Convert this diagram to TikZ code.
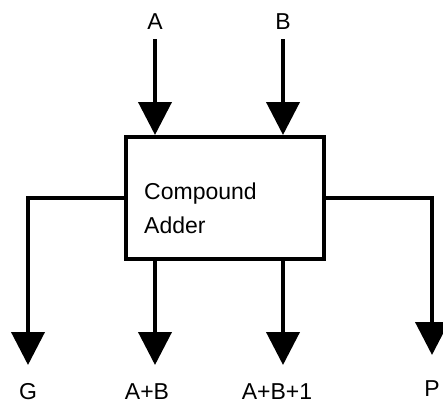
\documentclass[tikz,border=0pt]{standalone}
\usepackage{fontspec}
\setmainfont{Liberation Sans}
\usetikzlibrary{arrows.meta,positioning}

\begin{document}
\begin{tikzpicture}[x=1pt,y=-1pt,
  wire/.style={line width=4pt},
  arr/.style={wire,-{Triangle[length=33pt,width=33pt]}},
  sig/.style={inner sep=0pt,text height=16.5pt,text depth=0pt,font=\fontsize{23}{27}\selectfont}]
\useasboundingbox (0,0) rectangle (443,402);

% Adder box
\node[draw,wire,minimum width=198pt,minimum height=122pt,inner sep=0pt] (adder) at (225,198) {};
\node[anchor=base west,align=left,inner sep=0pt,font=\fontsize{23}{34}\selectfont] (adderText) at (144,233) {Compound\\Adder};

% Inputs
\node[sig] (A) at (155,21) {A};
\node[sig] (B) at (283,21) {B};
\draw[arr,shorten <=10pt] (A) -- (A |- adder.north);
\draw[arr,shorten <=10pt] (B) -- (B |- adder.north);

% Outputs
\coordinate (gTip) at (28,365);
\coordinate (abTip) at (155,365);
\coordinate (abOneTip) at (283,365);
\coordinate (pTip) at (432,355);
\draw[arr] (adder.west) -| (gTip);
\draw[arr] (adder.south -| abTip) -- (abTip);
\draw[arr] (adder.south -| abOneTip) -- (abOneTip);
\draw[arr] (adder.east) -| (pTip);

\node[sig,below=18pt of gTip] (G) {G};
\node[sig,below=18pt of abTip,xshift=-8pt] (AB) {A+B};
\node[sig,below=18pt of abOneTip,xshift=-6pt] (ABOne) {A+B+1};
\node[sig,below=25pt of pTip] (P) {P};
\end{tikzpicture}
\end{document}
